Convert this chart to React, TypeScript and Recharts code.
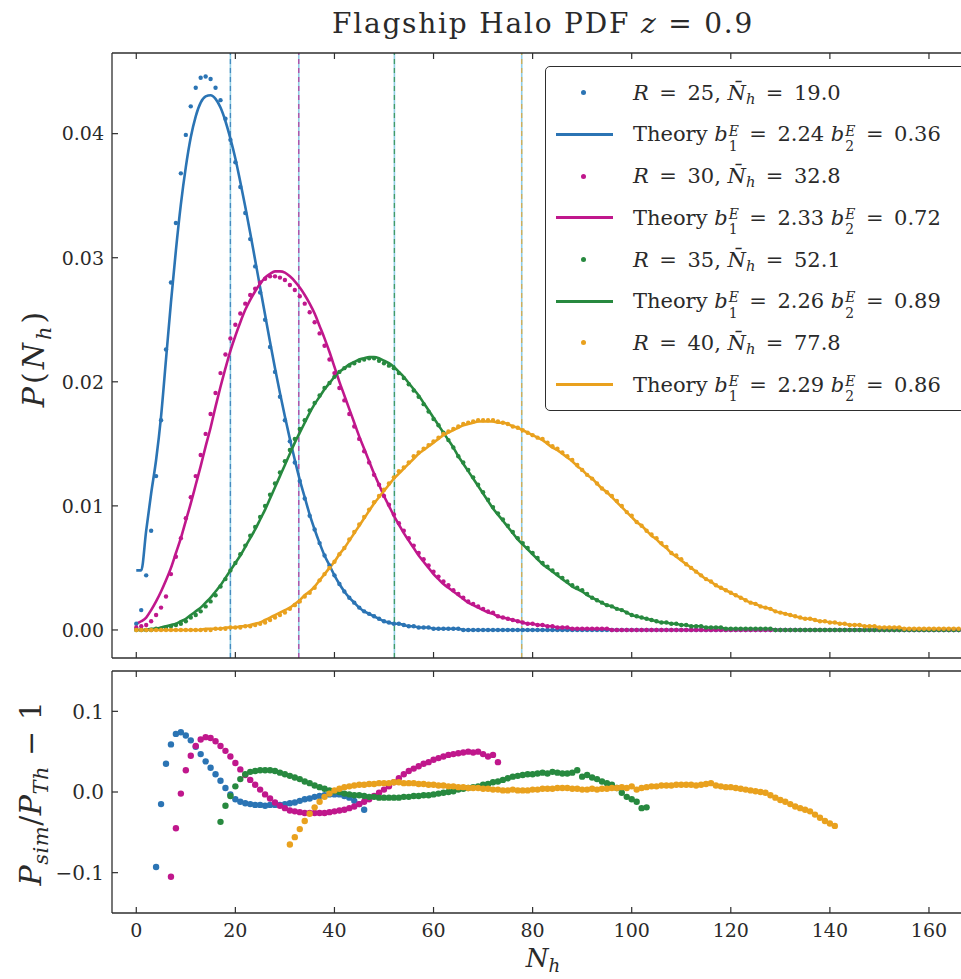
import React from 'react';
import { ComposedChart, Line, Scatter, XAxis, YAxis, ReferenceLine } from 'recharts';

const C_BLUE = '#2b74b4';
const C_MAG = '#c0178c';
const C_GREEN = '#27893f';
const C_ORANGE = '#e9a11e';
const AX = '#2e2e2e';
const TXT = '#2a2a2a';
const SERIF = '"DejaVu Serif", serif';

// legend / marker values
const radii = [25, 30, 35, 40];
const meanN = [19.0, 32.8, 52.1, 77.8];
const b1 = [2.24, 2.33, 2.26, 2.29];
const b2 = [0.36, 0.72, 0.89, 0.86];

const xTicks = [0, 20, 40, 60, 80, 100, 120, 140, 160];
const topYTicks = [0, 0.01, 0.02, 0.03, 0.04];
const botYTicks = [-0.1, 0, 0.1];

// P(N_h) in units of 1e-4, index = N_h (0..166)
const simBlue = [
  5, 16, 44, 80, 124, 169, 226, 280, 328, 368,
  399, 422, 437, 445, 446, 444, 437, 427, 412, 395,
  377, 357, 336, 315, 293, 272, 250, 228, 208, 188,
  169, 152, 135, 120, 106, 92, 81, 70, 60, 52,
  44, 37, 31, 26, 22, 18, 15, 13, 11, 9,
  7, 6, 5, 5, 4, 3, 3, 2, 2, 2,
  1, 1, 1, 1, 1, 1, 0, 0, 0, 0,
  0, 0, 0, 0, 0, 0, 0, 0, 0, 0,
  0, 0, 0, 0, 0, 0, 0, 0, 0, 0,
  0, 0, 0, 0, 0, 0, 0, 0, 0, 0,
  0, 0, 0, 0, 0, 0, 0, 0, 0, 0,
  0, 0, 0, 0, 0, 0, 0, 0, 0, 0,
  0, 0, 0, 0, 0, 0, 0, 0, 0, 0,
  0, 0, 0, 0, 0, 0, 0, 0, 0, 0,
  0, 0, 0, 0, 0, 0, 0, 0, 0, 0,
  0, 0, 0, 0, 0, 0, 0, 0, 0, 0,
  0, 0, 0, 0, 0, 0, 0,
];
const thBlue = [
  48, 48, 80, 110, 137, 172, 218, 264, 306, 343,
  373, 397, 414, 425, 430, 431, 428, 421, 410, 396,
  380, 361, 341, 320, 298, 276, 254, 232, 211, 191,
  172, 154, 137, 121, 107, 93, 81, 70, 60, 52,
  44, 37, 31, 26, 22, 18, 15, 13, 11, 9,
  7, 6, 5, 5, 4, 3, 3, 2, 2, 2,
  1, 1, 1, 1, 1, 1, 0, 0, 0, 0,
  0, 0, 0, 0, 0, 0, 0, 0, 0, 0,
  0, 0, 0, 0, 0, 0, 0, 0, 0, 0,
  0, 0, 0, 0, 0, 0, 0, 0, 0, 0,
  0, 0, 0, 0, 0, 0, 0, 0, 0, 0,
  0, 0, 0, 0, 0, 0, 0, 0, 0, 0,
  0, 0, 0, 0, 0, 0, 0, 0, 0, 0,
  0, 0, 0, 0, 0, 0, 0, 0, 0, 0,
  0, 0, 0, 0, 0, 0, 0, 0, 0, 0,
  0, 0, 0, 0, 0, 0, 0, 0, 0, 0,
  0, 0, 0, 0, 0, 0, 0,
];
const simMag = [
  2, 3, 4, 7, 12, 18, 27, 45, 59, 74,
  90, 107, 124, 141, 158, 174, 191, 207, 222, 235,
  246, 255, 263, 270, 275, 280, 283, 285, 285, 284,
  282, 278, 274, 269, 263, 256, 248, 239, 229, 218,
  207, 195, 185, 174, 164, 154, 144, 135, 125, 117,
  108, 101, 93, 86, 80, 74, 68, 62, 57, 52,
  47, 43, 39, 36, 32, 29, 26, 23, 21, 19,
  17, 15, 14, 11, 10, 9, 8, 7, 6, 5,
  5, 4, 4, 3, 3, 2, 2, 2, 1, 1,
  1, 1, 1, 1, 1, 1, 0, 0, 0, 0,
  0, 0, 0, 0, 0, 0, 0, 0, 0, 0,
  0, 0, 0, 0, 0, 0, 0, 0, 0, 0,
  0, 0, 0, 0, 0, 0, 0, 0, 0, 0,
  0, 0, 0, 0, 0, 0, 0, 0, 0, 0,
  0, 0, 0, 0, 0, 0, 0, 0, 0, 0,
  0, 0, 0, 0, 0, 0, 0, 0, 0, 0,
  0, 0, 0, 0, 0, 0, 0,
];
const thMag = [
  5, 7, 10, 16, 23, 31, 40, 50, 62, 74,
  88, 102, 117, 132, 148, 163, 180, 196, 211, 225,
  237, 248, 258, 266, 273, 279, 284, 287, 289, 289,
  288, 285, 281, 276, 270, 263, 255, 245, 235, 224,
  212, 200, 189, 178, 167, 156, 146, 136, 126, 117,
  108, 100, 92, 85, 78, 72, 66, 60, 55, 50,
  45, 41, 37, 34, 31, 28, 25, 22, 20, 18,
  16, 14, 13, 11, 10, 9, 8, 7, 6, 5,
  5, 4, 4, 3, 3, 2, 2, 2, 1, 1,
  1, 1, 1, 1, 1, 1, 0, 0, 0, 0,
  0, 0, 0, 0, 0, 0, 0, 0, 0, 0,
  0, 0, 0, 0, 0, 0, 0, 0, 0, 0,
  0, 0, 0, 0, 0, 0, 0, 0, 0, 0,
  0, 0, 0, 0, 0, 0, 0, 0, 0, 0,
  0, 0, 0, 0, 0, 0, 0, 0, 0, 0,
  0, 0, 0, 0, 0, 0, 0, 0, 0, 0,
  0, 0, 0, 0, 0, 0, 0,
];
const simGreen = [
  0, 0, 0, 0, 1, 1, 2, 3, 4, 5,
  7, 10, 12, 15, 19, 23, 28, 35, 41, 48,
  54, 61, 68, 76, 83, 91, 100, 109, 118, 127,
  136, 145, 154, 162, 169, 177, 183, 189, 195, 199,
  204, 208, 211, 213, 215, 217, 218, 219, 219, 217,
  215, 213, 211, 207, 203, 198, 193, 188, 182, 176,
  170, 165, 159, 153, 147, 140, 135, 129, 123, 117,
  111, 105, 99, 94, 89, 84, 79, 74, 70, 66,
  62, 58, 54, 51, 48, 45, 42, 39, 36, 34,
  32, 29, 26, 24, 22, 20, 19, 17, 16, 14,
  12, 11, 10, 9, 8, 7, 6, 6, 5, 5,
  4, 4, 3, 3, 3, 2, 2, 2, 2, 1,
  1, 1, 1, 1, 1, 1, 1, 1, 1, 0,
  0, 0, 0, 0, 0, 0, 0, 0, 0, 0,
  0, 0, 0, 0, 0, 0, 0, 0, 0, 0,
  0, 0, 0, 0, 0, 0, 0, 0, 0, 0,
  0, 0, 0, 0, 0, 0, 0,
];
const thGreen = [
  0, 0, 0, 1, 1, 2, 3, 4, 5, 7,
  9, 12, 15, 18, 22, 26, 31, 36, 42, 48,
  54, 60, 67, 74, 81, 89, 97, 106, 115, 124,
  133, 142, 151, 159, 167, 175, 182, 188, 194, 199,
  204, 208, 211, 214, 216, 218, 219, 220, 220, 219,
  217, 215, 212, 208, 204, 199, 194, 189, 183, 177,
  171, 165, 159, 153, 147, 140, 134, 128, 122, 116,
  110, 104, 98, 93, 88, 83, 78, 73, 69, 65,
  61, 57, 53, 50, 47, 44, 41, 38, 35, 33,
  31, 28, 26, 24, 22, 20, 19, 17, 16, 14,
  12, 11, 10, 9, 8, 7, 6, 6, 5, 5,
  4, 4, 3, 3, 3, 2, 2, 2, 2, 1,
  1, 1, 1, 1, 1, 1, 1, 1, 1, 0,
  0, 0, 0, 0, 0, 0, 0, 0, 0, 0,
  0, 0, 0, 0, 0, 0, 0, 0, 0, 0,
  0, 0, 0, 0, 0, 0, 0, 0, 0, 0,
  0, 0, 0, 0, 0, 0, 0,
];
const simOrange = [
  0, 0, 0, 0, 0, 0, 0, 0, 0, 0,
  0, 0, 0, 0, 0, 0, 1, 1, 1, 2,
  2, 2, 3, 3, 4, 5, 6, 8, 10, 12,
  14, 17, 20, 23, 27, 30, 34, 40, 45, 50,
  55, 61, 66, 73, 79, 85, 91, 97, 103, 108,
  113, 118, 123, 128, 131, 135, 140, 143, 146, 149,
  152, 155, 158, 160, 162, 164, 166, 167, 168, 169,
  169, 169, 169, 168, 167, 166, 164, 163, 161, 159,
  157, 155, 154, 151, 148, 146, 143, 140, 137, 133,
  129, 125, 122, 118, 114, 111, 108, 104, 100, 95,
  92, 87, 84, 80, 77, 74, 70, 67, 62, 60,
  57, 53, 50, 47, 44, 41, 39, 36, 34, 32,
  30, 28, 26, 24, 22, 21, 19, 18, 17, 15,
  14, 13, 12, 11, 10, 9, 9, 8, 7, 7,
  6, 6, 5, 5, 4, 4, 4, 3, 3, 3,
  2, 2, 2, 2, 2, 1, 1, 1, 1, 1,
  1, 1, 1, 1, 1, 1, 1,
];
const thOrange = [
  0, 0, 0, 0, 0, 0, 0, 0, 0, 0,
  0, 0, 0, 0, 1, 1, 1, 1, 2, 2,
  2, 3, 3, 4, 5, 6, 8, 10, 12, 14,
  16, 18, 21, 24, 28, 31, 35, 40, 45, 50,
  55, 61, 66, 72, 78, 84, 90, 96, 102, 107,
  112, 117, 122, 126, 130, 134, 138, 142, 145, 148,
  151, 154, 157, 159, 161, 163, 165, 166, 167, 168,
  168, 168, 168, 167, 167, 166, 164, 163, 161, 159,
  157, 155, 153, 150, 147, 145, 142, 139, 136, 132,
  129, 125, 122, 118, 114, 111, 107, 103, 99, 95,
  91, 87, 84, 80, 76, 73, 69, 66, 62, 59,
  56, 53, 50, 47, 44, 41, 39, 36, 34, 32,
  30, 28, 26, 24, 22, 21, 19, 18, 17, 15,
  14, 13, 12, 11, 10, 9, 9, 8, 7, 7,
  6, 6, 5, 5, 4, 4, 4, 3, 3, 3,
  2, 2, 2, 2, 2, 1, 1, 1, 1, 1,
  1, 1, 1, 1, 1, 1, 1,
];

// P_sim/P_Th - 1 in units of 1e-3, first N_h given by *Start
const resBlueStart = 4;
const resBlue = [
  -93, -15, 35, 59, 72, 74, 70, 64, 56, 47,
  38, 30, 22, 14, 5, -3, -9, -12, -14, -15,
  -16, -16, -17, -16, -16, -16, -15, -14, -13, -11,
  -9, -8, -6, -5, -4, -3, -3, -3, -5, -7,
  -11, -15, -22,
];
const resMagStart = 7;
const resMag = [
  -105, -45, -2, 27, 45, 57, 65, 68, 67, 63,
  57, 51, 44, 36, 28, 21, 15, 9, 3, -3,
  -8, -13, -17, -20, -23, -24, -25, -26, -26, -26,
  -26, -26, -25, -24, -23, -22, -20, -18, -15, -12,
  -9, -5, -1, 3, 7, 12, 17, 22, 26, 29,
  32, 35, 37, 40, 42, 44, 46, 47, 48, 49,
  50, 49, 50, 47, 44, 46, 37,
];
const resGreenStart = 17;
const resGreen = [
  -37, -17, -5, 7, 16, 22, 25, 26, 27, 27,
  27, 26, 24, 22, 20, 18, 16, 13, 11, 8,
  6, 4, 2, 1, 0, -2, -3, -4, -4, -5,
  -6, -6, -7, -7, -7, -7, -7, -6, -6, -5,
  -5, -4, -4, -3, -2, -1, 0, 1, 3, 4,
  5, 6, 7, 9, 10, 12, 13, 15, 17, 19,
  20, 21, 22, 22, 23, 24, 23, 25, 24, 23,
  23, 24, 27, 19, 21, 18, 16, 13, 11, 9,
  5, -1, -6, -9, -12, -20, -19,
];
const resOrangeStart = 31;
const resOrange = [
  -65, -56, -46, -36, -27, -19, -12, -6, -2, 2,
  4, 6, 7, 8, 9, 9, 10, 10, 11, 11,
  11, 12, 12, 11, 11, 11, 10, 10, 9, 9,
  8, 8, 7, 7, 6, 6, 5, 5, 5, 4,
  4, 3, 3, 2, 2, 3, 2, 2, 2, 3,
  3, 4, 4, 4, 5, 5, 5, 4, 4, 3,
  3, 4, 3, 4, 4, 5, 5, 6, 5, 7,
  3, 5, 6, 7, 7, 8, 8, 8, 9, 9,
  9, 9, 8, 9, 10, 11, 8, 7, 6, 6,
  5, 4, 3, 2, 1, 0, -1, -4, -7, -10,
  -12, -15, -18, -20, -22, -24, -28, -32, -36, -39,
  -42,
];

const pts = (vals: number[], start: number, scale: number) =>
  vals.map((v, i) => ({ n: start + i, p: v * scale }));

const colors = [C_BLUE, C_MAG, C_GREEN, C_ORANGE];
const series = [
  { sim: simBlue, th: thBlue, res: resBlue, resStart: resBlueStart },
  { sim: simMag, th: thMag, res: resMag, resStart: resMagStart },
  { sim: simGreen, th: thGreen, res: resGreen, resStart: resGreenStart },
  { sim: simOrange, th: thOrange, res: resOrange, resStart: resOrangeStart },
].map((s, i) => ({
  color: colors[i],
  mean: meanN[i],
  simPts: pts(s.sim, 0, 1e-4),
  thPts: pts(s.th, 0, 1e-4),
  resPts: pts(s.res, s.resStart, 1e-3),
}));

const X_DOMAIN: [number, number] = [-4.9, 170.3];

const bottomTick = (withLabel: boolean) => (p: any) => (
  <g>
    <line x1={p.x} x2={p.x} y1={p.y} y2={p.y - 6} stroke={AX} strokeWidth={1.2} />
    {withLabel && (
      <text x={p.x} y={p.y + 24} textAnchor="middle" fontFamily={SERIF} fontSize={19} fill={TXT}>
        {p.payload.value}
      </text>
    )}
  </g>
);

const topTick = (p: any) => (
  <line x1={p.x} x2={p.x} y1={p.y} y2={p.y + 6} stroke={AX} strokeWidth={1.2} />
);

const leftTick = (fmt: (v: number) => string, size: number) => (p: any) => (
  <g>
    <line x1={p.x} x2={p.x + 6} y1={p.y} y2={p.y} stroke={AX} strokeWidth={1.2} />
    <text x={p.x - 8} y={p.y + size * 0.36} textAnchor="end" fontFamily={SERIF} fontSize={size} fill={TXT}>
      {fmt(p.payload.value)}
    </text>
  </g>
);

const dot = (r: number, color: string) => (p: any) => (
  <circle cx={p.cx} cy={p.cy} r={r} fill={color} />
);

const axisLine = { stroke: AX, strokeWidth: 1.3 };
const EQ = '\u2002=\u2002';

function Sub({ children }: { children: React.ReactNode }) {
  return <span style={{ fontSize: '0.7em', verticalAlign: '-0.3em' }}>{children}</span>;
}

function SubSup({ sub, sup }: { sub: string; sup: string }) {
  return (
    <span
      style={{
        display: 'inline-flex',
        flexDirection: 'column',
        fontSize: '0.66em',
        verticalAlign: '0.42em',
        marginLeft: 1,
      }}
    >
      <i style={{ display: 'block', lineHeight: '1.1em' }}>{sup}</i>
      <span style={{ display: 'block', lineHeight: '1.1em' }}>{sub}</span>
    </span>
  );
}

function LegendBox() {
  const rows: React.ReactNode[] = [];
  radii.forEach((r, i) => {
    rows.push(
      <div key={`d${i}`} style={rowStyle(i * 2)}>
        <div style={{ position: 'absolute', left: 35, top: 12.5, width: 5, height: 5, borderRadius: 3, background: colors[i] }} />
        <div style={{ position: 'absolute', left: 87 }}>
          <i>R</i>
          {EQ}
          {r}, <i>{'N\u0304'}</i>
          <Sub>
            <i>h</i>
          </Sub>
          {EQ}
          {meanN[i].toFixed(1)}
        </div>
      </div>
    );
    rows.push(
      <div key={`t${i}`} style={rowStyle(i * 2 + 1)}>
        <div style={{ position: 'absolute', left: 10, top: 13.5, width: 57, height: 3, background: colors[i] }} />
        <div style={{ position: 'absolute', left: 87 }}>
          Theory <i>b</i>
          <SubSup sub="1" sup="E" />
          {EQ}
          {b1[i].toFixed(2)} <i>b</i>
          <SubSup sub="2" sup="E" />
          {EQ}
          {b2[i].toFixed(2)}
        </div>
      </div>
    );
  });
  return (
    <div
      style={{
        position: 'absolute',
        left: 545,
        top: 66,
        width: 440,
        height: 343,
        border: `1.4px solid ${AX}`,
        borderRadius: 5,
        background: '#fff',
        fontFamily: SERIF,
        fontSize: 21,
        color: TXT,
      }}
    >
      {rows}
    </div>
  );
}

function rowStyle(k: number): React.CSSProperties {
  return {
    position: 'absolute',
    left: 0,
    top: 25.7 + k * 41.7 - 15,
    height: 30,
    width: 430,
    lineHeight: '30px',
    whiteSpace: 'nowrap',
  };
}

const labelStyle = (x: number, y: number, size: number, rotate: boolean, spacing = 0): React.CSSProperties => ({
  position: 'absolute',
  left: x,
  top: y,
  transform: `translate(-50%, -50%)${rotate ? ' rotate(-90deg)' : ''}`,
  fontFamily: SERIF,
  fontSize: size,
  lineHeight: 1,
  color: TXT,
  whiteSpace: 'nowrap',
  letterSpacing: spacing,
});

export default function App() {
  return (
    <div style={{ position: 'absolute', left: 0, top: 0, width: 961, height: 979, overflow: 'hidden', background: '#fff' }}>
      {/* upper panel: P(N_h) */}
      <div style={{ position: 'absolute', left: 0, top: 0 }}>
        <ComposedChart width={1000} height={700} margin={{ top: 23, right: 20, bottom: 12, left: 52 }}>
          <XAxis
            xAxisId="top"
            orientation="top"
            type="number"
            dataKey="n"
            domain={X_DOMAIN}
            ticks={xTicks}
            allowDataOverflow
            height={30}
            tickSize={0}
            tickMargin={0}
            tickLine={false}
            axisLine={axisLine}
            tick={topTick}
          />
          <XAxis
            type="number"
            dataKey="n"
            domain={X_DOMAIN}
            ticks={xTicks}
            allowDataOverflow
            height={30}
            tickSize={0}
            tickMargin={0}
            tickLine={false}
            axisLine={axisLine}
            tick={bottomTick(false)}
          />
          <YAxis
            type="number"
            domain={[-0.00226, 0.0465]}
            ticks={topYTicks}
            allowDataOverflow
            width={60}
            tickSize={0}
            tickMargin={0}
            tickLine={false}
            axisLine={axisLine}
            tick={leftTick((v) => v.toFixed(2), 19)}
          />
          {series.map((s) => (
            <ReferenceLine key={`rs${s.mean}`} x={s.mean} stroke="#8fcde4" strokeWidth={1.6} />
          ))}
          {series.map((s) => (
            <ReferenceLine key={`rd${s.mean}`} x={s.mean} stroke={s.color} strokeOpacity={0.75} strokeWidth={1.3} strokeDasharray="5 4" />
          ))}
          {series.flatMap((s) => [
            <Scatter
              key={`s${s.mean}`}
              data={s.simPts}
              dataKey="p"
              fill={s.color}
              shape={dot(2.2, s.color)}
              isAnimationActive={false}
            />,
            <Line
              key={`l${s.mean}`}
              data={s.thPts}
              dataKey="p"
              type="monotone"
              stroke={s.color}
              strokeWidth={2.6}
              dot={false}
              activeDot={false}
              isAnimationActive={false}
            />,
          ])}
        </ComposedChart>
      </div>

      {/* lower panel: residuals */}
      <div style={{ position: 'absolute', left: 0, top: 640 }}>
        <ComposedChart width={1000} height={339} margin={{ top: 1, right: 20, bottom: 36, left: 52 }}>
          <XAxis
            xAxisId="top"
            orientation="top"
            type="number"
            dataKey="n"
            domain={X_DOMAIN}
            ticks={xTicks}
            allowDataOverflow
            height={30}
            tickSize={0}
            tickMargin={0}
            tickLine={false}
            axisLine={axisLine}
            tick={topTick}
          />
          <XAxis
            type="number"
            dataKey="n"
            domain={X_DOMAIN}
            ticks={xTicks}
            allowDataOverflow
            height={30}
            tickSize={0}
            tickMargin={0}
            tickLine={false}
            axisLine={axisLine}
            tick={bottomTick(true)}
          />
          <YAxis
            type="number"
            domain={[-0.15, 0.15]}
            ticks={botYTicks}
            allowDataOverflow
            width={60}
            tickSize={0}
            tickMargin={0}
            tickLine={false}
            axisLine={axisLine}
            tick={leftTick((v) => v.toFixed(1).replace('-', '\u2212'), 20)}
          />
          {series.map((s) => (
            <Scatter
              key={`r${s.mean}`}
              data={s.resPts}
              dataKey="p"
              fill={s.color}
              shape={dot(3.2, s.color)}
              isAnimationActive={false}
            />
          ))}
        </ComposedChart>
      </div>

      <LegendBox />

      <div style={labelStyle(543, 24, 28, false, 1.8)}>
        Flagship Halo PDF <i>z</i> = 0.9
      </div>
      <div style={labelStyle(37, 358, 30, true, 3)}>
        <i>P</i>(<i>N</i>
        <Sub>
          <i>h</i>
        </Sub>
        )
      </div>
      <div style={labelStyle(34, 793, 30, true, 0.5)}>
        <i>P</i>
        <Sub>
          <i>sim</i>
        </Sub>
        /<i>P</i>
        <Sub>
          <i>Th</i>
        </Sub>{' '}
        {'\u2212'} 1
      </div>
      <div
        style={{
          position: 'absolute',
          left: 543,
          top: 945,
          transform: 'translateX(-50%)',
          fontFamily: SERIF,
          fontSize: 26,
          lineHeight: 1,
          color: TXT,
          whiteSpace: 'nowrap',
        }}
      >
        <i>N</i>
        <Sub>
          <i>h</i>
        </Sub>
      </div>
    </div>
  );
}
